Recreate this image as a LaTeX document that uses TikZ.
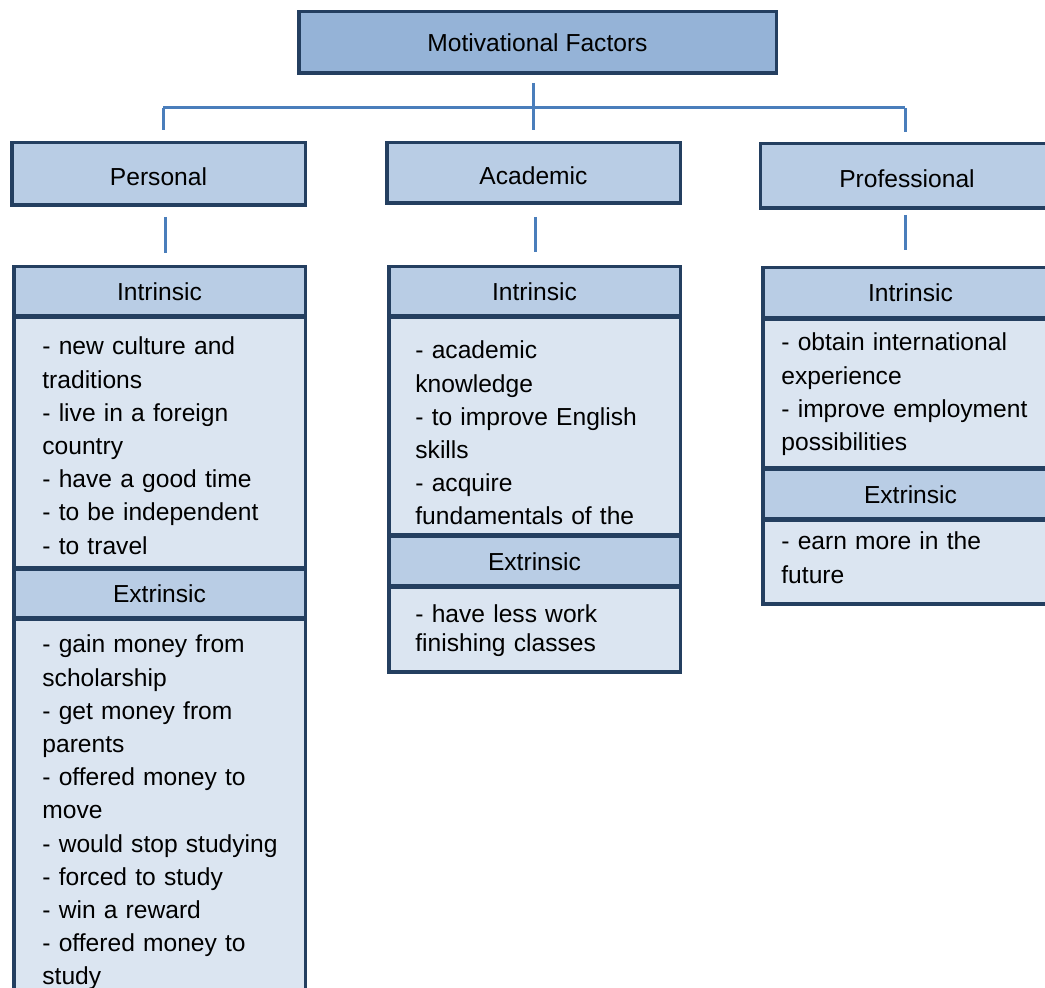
\documentclass[tikz,border=0pt]{standalone}
\usepackage{fontspec}
\setmainfont{Liberation Sans}
\usepackage{tikz}
\usetikzlibrary{calc}

\definecolor{navy}{HTML}{243F60}
\definecolor{topblue}{HTML}{95B3D7}
\definecolor{headblue}{HTML}{B9CDE5}
\definecolor{paleblue}{HTML}{DBE5F1}
\definecolor{linkblue}{HTML}{4A7EBB}

\begin{document}
\begin{tikzpicture}[x=0.5pt, y=-0.5pt,
    box/.style={draw=navy, line width=1.75pt, inner sep=0pt,
        font=\fontsize{12.3}{16.5}\selectfont},
    head/.style={box, fill=headblue},
    body/.style={box, fill=paleblue},
    items/.style={anchor=base west, align=left, inner sep=0pt, text width=135pt,
        font=\fontsize{12.3}{16.6}\selectfont},
    link/.style={draw=linkblue, line width=1.5pt}]

        % Frame
        \useasboundingbox (0,0) rectangle (1045,988);
        \clip (0,0) rectangle (1045,988);

        % Top box
        \node[box, fill=topblue, minimum width=238.75pt, minimum height=30.75pt]
            (top) at (537.5,42.5) {Motivational Factors};

        % Middle row
        \node[head, minimum width=146.75pt, minimum height=31.25pt, text height=12pt, text depth=0pt]
            (personal) at (158.5,174) {Personal};
        \node[head, minimum width=146.75pt, minimum height=30.25pt, text height=12pt, text depth=0pt]
            (academic) at (533.5,173) {Academic};
        \node[head, minimum width=146.75pt, minimum height=32.25pt, text height=12pt, text depth=0pt]
            (professional) at (907,176) {Professional};

        % Personal column
        \node[head, minimum width=145.75pt, minimum height=24.75pt]
            (pers-in) at (159.5,291.5) {Intrinsic};
        \node[body, minimum width=145.75pt, minimum height=125.25pt]
            (pers-in-body) at (159.5,443) {};
        \node[head, minimum width=145.75pt, minimum height=24.25pt]
            (pers-ex) at (159.5,594) {Extrinsic};
        \node[body, minimum width=145.75pt, minimum height=199.25pt]
            (pers-ex-body) at (159.5,819) {};
        \node[items] (pers-in-text) at (42,355) {- new culture and\\ traditions\\
            - live in a foreign\\ country\\ - have a good time\\
            - to be independent\\ - to travel};
        \node[items] (pers-ex-text) at (42,653) {- gain money from\\ scholarship\\
            - get money from\\ parents\\ - offered money to\\ move\\
            - would stop studying\\ - forced to study\\ - win a reward\\
            - offered money to\\ study};

        % Academic column
        \node[head, minimum width=145.75pt, minimum height=24.75pt]
            (acad-in) at (534.5,291.5) {Intrinsic};
        \node[body, minimum width=145.75pt, minimum height=108.75pt]
            (acad-in-body) at (534.5,426.5) {};
        \node[items] (acad-in-text) at (415,359) {- academic\\ knowledge\\
            - to improve English\\ skills\\ - acquire\\ fundamentals of the};
        \node[head, minimum width=145.75pt, minimum height=24.75pt]
            (acad-ex) at (534.5,561.5) {Extrinsic};
        \node[body, minimum width=145.75pt, minimum height=42.25pt]
            (acad-ex-body) at (534.5,630) {};
        \node[items, font=\fontsize{12.3}{14.5}\selectfont]
            (acad-ex-text) at (415,623) {- have less work\\ finishing classes};

        % Professional column
        \node[head, minimum width=147.75pt, minimum height=25.25pt]
            (prof-in) at (910.5,293) {Intrinsic};
        \node[body, minimum width=147.75pt, minimum height=74.25pt]
            (prof-in-body) at (910.5,394) {};
        \node[items] (prof-in-text) at (781,351) {- obtain international\\
            experience\\ - improve employment\\ possibilities};
        \node[head, minimum width=147.75pt, minimum height=24.75pt]
            (prof-ex) at (910.5,494.5) {Extrinsic};
        \node[body, minimum width=147.75pt, minimum height=41.75pt]
            (prof-ex-body) at (910.5,562.5) {};
        \node[items] (prof-ex-text) at (781,550) {- earn more in the\\ future};

        % Connectors from the top box
        \coordinate (bar-l) at (163,108);
        \coordinate (bar-r) at (905,108);
        \draw[link] (bar-l) -- (bar-r);
        \draw[link, shorten >=5.5pt] (bar-l) -- (bar-l |- personal.north);
        \draw[link, shorten >=5pt] (bar-r) -- (bar-r |- professional.north);
        \draw[link, shorten <=4pt, shorten >=5.5pt]
            (top.south -| academic.north) -- (academic.north);

        % Connectors to the lower boxes
        \draw[link, shorten <=5pt, shorten >=6pt]
            ([xshift=3.5pt]personal.south) -- ([xshift=3.5pt]personal.south |- pers-in.north);
        \draw[link, shorten <=6pt, shorten >=6.5pt]
            ([xshift=1pt]academic.south) -- ([xshift=1pt]academic.south |- acad-in.north);
        \draw[link, shorten <=2.5pt, shorten >=8pt]
            ([xshift=-1pt]professional.south) -- ([xshift=-1pt]professional.south |- prof-in.north);

    \end{tikzpicture}
\end{document}
